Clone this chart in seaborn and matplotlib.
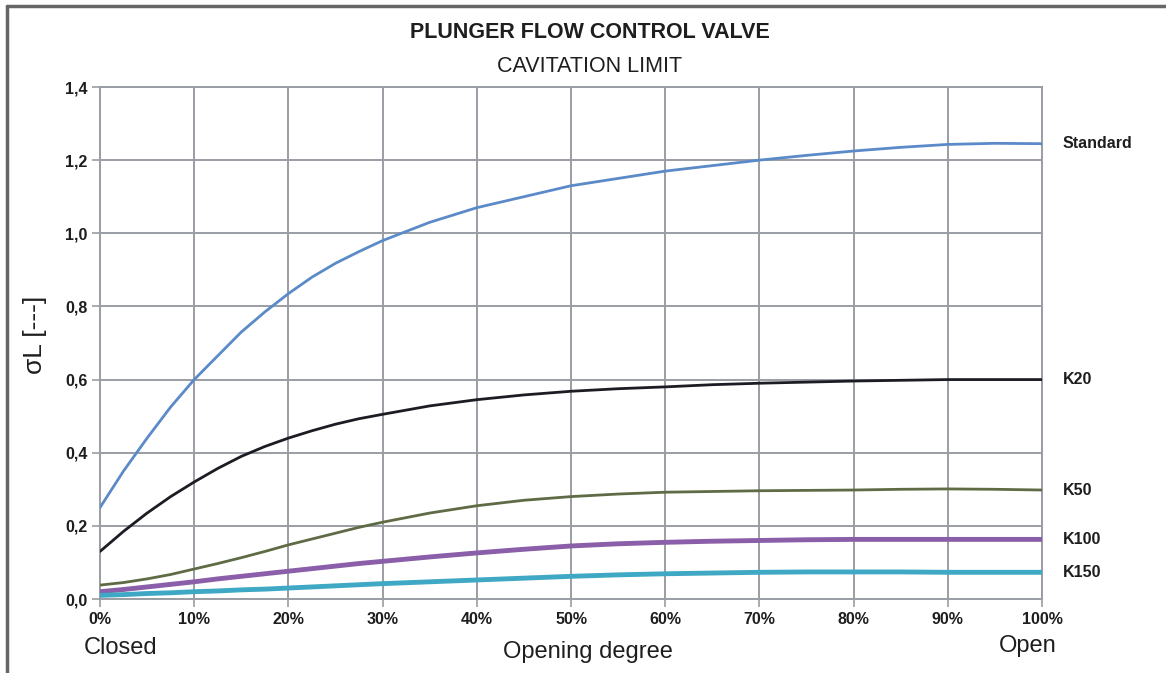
import matplotlib
matplotlib.use("Agg")
import matplotlib.pyplot as plt
import matplotlib.lines as mlines
import pandas as pd
import seaborn as sns

# opening degree in %
opening = [0, 2.5, 5, 7.5, 10, 12.5, 15, 17.5, 20, 22.5, 25, 27.5, 30,
           35, 40, 45, 50, 55, 60, 65, 70, 75, 80, 85, 90, 95, 100]

standard = [0.25, 0.35, 0.44, 0.525, 0.60, 0.665, 0.73, 0.785, 0.835, 0.88, 0.918, 0.95, 0.98,
            1.03, 1.07, 1.10, 1.13, 1.15, 1.17, 1.185, 1.20, 1.213, 1.225, 1.235, 1.243, 1.246, 1.245]
k20 = [0.13, 0.185, 0.235, 0.28, 0.32, 0.357, 0.39, 0.417, 0.44, 0.46, 0.478, 0.493, 0.505,
       0.528, 0.545, 0.558, 0.568, 0.575, 0.58, 0.586, 0.59, 0.593, 0.596, 0.598, 0.60, 0.60, 0.60]
k50 = [0.038, 0.045, 0.055, 0.067, 0.082, 0.097, 0.113, 0.13, 0.148, 0.164, 0.18, 0.196, 0.21,
       0.235, 0.255, 0.27, 0.28, 0.287, 0.292, 0.294, 0.296, 0.297, 0.298, 0.30, 0.301, 0.30, 0.298]
k100 = [0.02, 0.026, 0.033, 0.04, 0.047, 0.055, 0.062, 0.069, 0.076, 0.083, 0.09, 0.097, 0.103,
        0.115, 0.126, 0.136, 0.145, 0.151, 0.155, 0.158, 0.16, 0.162, 0.163, 0.163, 0.163, 0.163, 0.163]
k150 = [0.01, 0.012, 0.015, 0.017, 0.02, 0.022, 0.025, 0.027, 0.03, 0.033, 0.036, 0.039, 0.042,
        0.047, 0.052, 0.057, 0.062, 0.066, 0.069, 0.071, 0.073, 0.074, 0.074, 0.074, 0.073, 0.073, 0.073]

series_names = ["Standard", "K20", "K50", "K100", "K150"]
series_vals = [standard, k20, k50, k100, k150]
colors = ["#5b8ac8", "#1c1c24", "#5e6b45", "#8a5ea8", "#3fa8c4"]
widths = [2.0, 2.0, 2.0, 3.5, 3.5]

x_ticks = [0, 10, 20, 30, 40, 50, 60, 70, 80, 90, 100]
x_labels = ["0%", "10%", "20%", "30%", "40%", "50%", "60%", "70%", "80%", "90%", "100%"]
y_ticks = [0.0, 0.2, 0.4, 0.6, 0.8, 1.0, 1.2, 1.4]
y_labels = ["0,0", "0,2", "0,4", "0,6", "0,8", "1,0", "1,2", "1,4"]

sns.set_style("white")
plt.rcParams['font.family'] = ['Liberation Sans', 'DejaVu Sans']

fig = plt.figure(figsize=(11.66, 6.73), dpi=100)
ax = fig.add_axes([100 / 1166, 1 - 599 / 673, 942 / 1166, 512 / 673])

grid_col = "#9a9ea4"
txt_col = "#1e1e1e"
for name, vals, c, w in zip(series_names, series_vals, colors, widths):
    df = pd.DataFrame({"x": opening, "y": vals})
    sns.lineplot(data=df, x="x", y="y", ax=ax, color=c, linewidth=w, zorder=3)
    ax.text(102.2, vals[-1], name, fontsize=11.5, fontweight="bold", color=txt_col,
            va="center", ha="left", clip_on=False)

ax.set_xlim(0, 100)
ax.set_ylim(0, 1.4)
ax.set_xticks(x_ticks)
ax.set_xticklabels(x_labels, fontsize=11.5, fontweight="bold", color=txt_col)
ax.set_yticks(y_ticks)
ax.set_yticklabels(y_labels, fontsize=11.5, fontweight="bold", color=txt_col)
ax.grid(True, color=grid_col, linewidth=1.4)
ax.tick_params(axis="both", length=6, width=1.2, color=grid_col, pad=3)
ax.tick_params(axis="y", direction="out", left=True)
ax.tick_params(axis="x", direction="out", bottom=True)
for s in ["left", "right", "top", "bottom"]:
    ax.spines[s].set_color(grid_col)
    ax.spines[s].set_linewidth(1.4)
ax.set_xlabel("")
ax.set_ylabel("")

fig.text(35 / 1166, 1 - 335 / 673, "σL [---]", rotation=90, fontsize=19, color=txt_col,
         ha="center", va="center")
fig.text(590 / 1166, 1 - 33 / 673, "PLUNGER FLOW CONTROL VALVE", fontsize=15.5, fontweight="bold",
         color=txt_col, ha="center", va="center")
fig.text(590 / 1166, 1 - 66 / 673, "CAVITATION LIMIT", fontsize=15.5, color=txt_col,
         ha="center", va="center")
fig.text(121 / 1166, 1 - 648 / 673, "Closed", fontsize=17, color=txt_col, ha="center", va="center")
fig.text(588 / 1166, 1 - 652 / 673, "Opening degree", fontsize=17, color=txt_col, ha="center", va="center")
fig.text(1028 / 1166, 1 - 646 / 673, "Open", fontsize=17, color=txt_col, ha="center", va="center")

# outer frame (left and top edges)
fig.add_artist(mlines.Line2D([7 / 1166, 7 / 1166], [0, 1 - 6 / 673], color="#666666", linewidth=2.5,
                             transform=fig.transFigure))
fig.add_artist(mlines.Line2D([7 / 1166, 1], [1 - 6 / 673, 1 - 6 / 673], color="#666666", linewidth=2.5,
                             transform=fig.transFigure))

fig.savefig("out.png", dpi=100)
